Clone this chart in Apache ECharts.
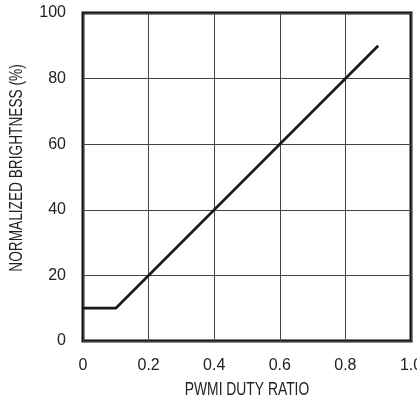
<!DOCTYPE html>
<html><head><meta charset="utf-8">
<script src="https://cdn.jsdelivr.net/npm/echarts@6/dist/echarts.min.js"></script>
<style>html,body{margin:0;padding:0;background:#fff}#c{width:417px;height:402px}</style>
</head><body><div id="c"></div>
<script>
const dutyRatio = [0, 0.1, 0.9];
const brightness = [10, 10, 90];
const xTicks = [0, 0.2, 0.4, 0.6, 0.8, 1.0];
const yTicks = [0, 20, 40, 60, 80, 100];
const xName = 'PWMI DUTY RATIO';
const yName = 'NORMALIZED BRIGHTNESS (%)';
const font = '"Liberation Sans", Arial, sans-serif';
const chart = echarts.init(document.getElementById('c'), null, {renderer: 'canvas'});
chart.setOption({
  animation: false,
  grid: {left: 83, right: 6, top: 13, bottom: 61, show: true, borderColor: '#111', borderWidth: 3, backgroundColor: 'transparent', containLabel: false, outerBoundsMode: 'none'},
  xAxis: {
    type: 'value', min: 0, max: 1, interval: 0.2,
    axisLine: {show: false}, axisTick: {show: false},
    axisLabel: {margin: 17, fontFamily: font, fontSize: 16, color: '#222', alignMinLabel: 'center', alignMaxLabel: 'center', hideOverlap: false,
      formatter: v => { const t = xTicks.find(x => Math.abs(x - v) < 1e-9); return t === undefined ? '' : (t === 0 ? '0' : t.toFixed(1)); }},
    splitLine: {show: true, lineStyle: {color: '#444', width: 1}}
  },
  yAxis: {
    type: 'value', min: 0, max: 100, interval: 20,
    axisLine: {show: false}, axisTick: {show: false},
    axisLabel: {margin: 17, fontFamily: font, fontSize: 16, color: '#222',
      formatter: v => yTicks.includes(v) ? String(v) : ''},
    splitLine: {show: true, lineStyle: {color: '#444', width: 1}}
  },
  graphic: [
    {type: 'text', x: 247, y: 390, scaleX: 0.77, scaleY: 1,
     style: {text: xName, font: '18px ' + font, fill: '#222', textAlign: 'center', textVerticalAlign: 'middle'}},
    {type: 'text', x: 17, y: 168, rotation: Math.PI / 2, scaleX: 0.76, scaleY: 1,
     style: {text: yName, font: '18px ' + font, fill: '#222', textAlign: 'center', textVerticalAlign: 'middle'}}
  ],
  series: [{
    type: 'line', data: dutyRatio.map((x, i) => [x, brightness[i]]),
    symbol: 'none', lineStyle: {color: '#1a1a1a', width: 2.7}
  }]
});
</script></body></html>
